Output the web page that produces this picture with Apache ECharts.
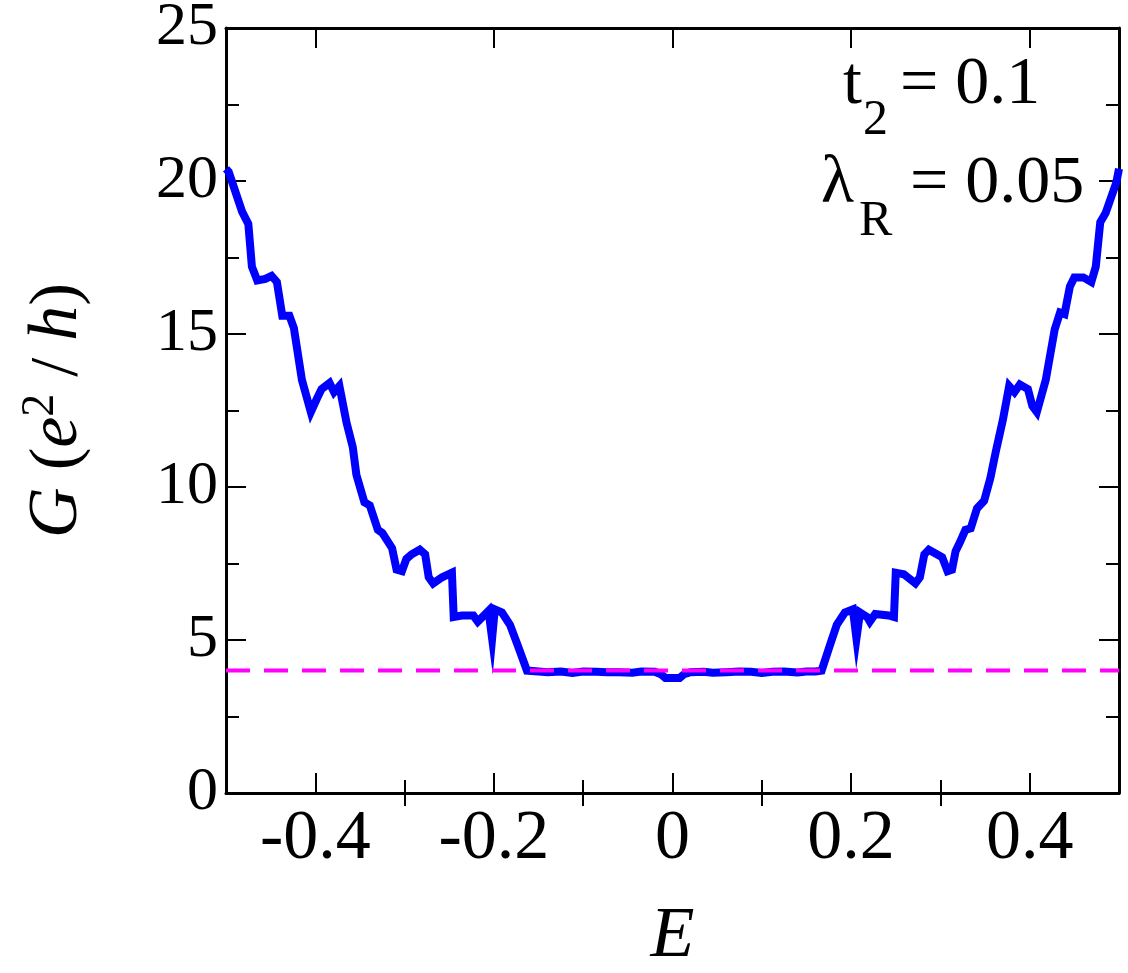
<!DOCTYPE html>
<html>
<head>
<meta charset="utf-8">
<script src="https://cdn.jsdelivr.net/npm/echarts@6/dist/echarts.min.js"></script>
<style>
  html, body { margin: 0; padding: 0; background: #fff; }
  #chart { width: 1128px; height: 973px; }
</style>
</head>
<body>
<div id="chart"></div>
<script>
// conductance G (e^2/h) vs energy E
const energy = [
  -0.5, -0.497, -0.482, -0.475, -0.471, -0.465, -0.456, -0.449, -0.443, -0.437,
  -0.429, -0.424, -0.415, -0.405, -0.398, -0.393, -0.384, -0.379, -0.373, -0.365,
  -0.358, -0.354, -0.345, -0.339, -0.330, -0.325, -0.314, -0.309, -0.303, -0.298,
  -0.292, -0.283, -0.277, -0.273, -0.268, -0.258, -0.247, -0.245, -0.236, -0.223,
  -0.218, -0.206, -0.202, -0.199, -0.191, -0.182, -0.173, -0.163,
  -0.150, -0.140, -0.125, -0.112, -0.100, -0.085, -0.073, -0.060, -0.045, -0.035,
  -0.020, -0.013, -0.008, 0.008, 0.013, 0.020, 0.035, 0.045, 0.060, 0.075,
  0.088, 0.100, 0.112, 0.125, 0.140, 0.150, 0.160,
  0.167, 0.176, 0.184, 0.193, 0.202, 0.206, 0.210, 0.218, 0.221, 0.227,
  0.242, 0.248, 0.250, 0.259, 0.272, 0.277, 0.282, 0.287, 0.296, 0.302,
  0.308, 0.313, 0.317, 0.322, 0.328, 0.334, 0.341, 0.349, 0.356, 0.362,
  0.370, 0.377, 0.383, 0.389, 0.398, 0.403, 0.408, 0.418, 0.428, 0.434,
  0.439, 0.445, 0.450, 0.460, 0.469, 0.474, 0.479, 0.485, 0.497, 0.5
];
const conductance = [
  20.4, 20.3, 19.0, 18.6, 17.2, 16.75, 16.8, 16.9, 16.7, 15.6,
  15.6, 15.2, 13.5, 12.45, 12.9, 13.2, 13.4, 13.1, 13.3, 12.1,
  11.3, 10.4, 9.5, 9.4, 8.6, 8.5, 8.0, 7.3, 7.25, 7.65,
  7.8, 7.95, 7.8, 7.05, 6.85, 7.05, 7.2, 5.75, 5.8, 5.8,
  5.6, 5.95, 5.05, 6.0, 5.9, 5.5, 4.8, 4.0,
  3.97, 3.95, 3.97, 3.92, 3.97, 3.96, 3.95, 3.95, 3.93, 3.97,
  3.96, 3.88, 3.76, 3.76, 3.88, 3.95, 3.96, 3.93, 3.95, 3.97,
  3.96, 3.92, 3.96, 3.97, 3.94, 3.97, 3.97,
  4.0, 4.8, 5.5, 5.9, 6.0, 5.05, 5.9, 5.75, 5.6, 5.85,
  5.8, 5.75, 7.2, 7.15, 6.85, 7.05, 7.8, 7.95, 7.8, 7.7,
  7.25, 7.3, 7.9, 8.2, 8.6, 8.65, 9.3, 9.55, 10.3, 11.15,
  12.2, 13.3, 13.1, 13.35, 13.2, 12.65, 12.45, 13.5, 15.15, 15.7,
  15.65, 16.55, 16.85, 16.85, 16.7, 17.2, 18.65, 18.95, 19.95, 20.4
];
const quantizedLevel = 4;
const xRange = [-0.5, 0.5];
const xMajorTicks = [-0.4, -0.2, 0, 0.2, 0.4];
const xMinorTicks = [-0.3, -0.1, 0.1, 0.3];

const FONT = "'Liberation Serif', 'Times New Roman', Times, serif";
const curve = energy.map((e, i) => [e, conductance[i]]);

const chart = echarts.init(document.getElementById('chart'));

const xBase = {
  type: 'value', min: xRange[0], max: xRange[1], gridIndex: 0,
  splitLine: { show: false }
};
const frameLine = { show: true, onZero: false, lineStyle: { color: '#000', width: 3 } };
const yBase = {
  type: 'value', min: 0, max: 25, interval: 5,
  splitLine: { show: false },
  axisLine: frameLine,
  axisTick: { inside: true, length: 20, lineStyle: { color: '#000', width: 2 } },
  minorTick: { show: true, splitNumber: 2, length: 13, lineStyle: { color: '#000', width: 2 } }
};
const txt = (x, y, text, size) => ({
  type: 'text',
  style: { x, y, text, font: `${size}px ${FONT}`, fill: '#000', verticalAlign: 'middle' }
});

chart.setOption({
  backgroundColor: '#fff',
  animation: false,
  grid: { left: 226, right: 9, top: 28, bottom: 180, outerBoundsMode: 'none' },
  xAxis: [
    Object.assign({}, xBase, {
      position: 'bottom',
      axisLine: frameLine,
      axisTick: { inside: true, length: 20, customValues: xMajorTicks, lineStyle: { color: '#000', width: 2 } },
      axisLabel: {
        customValues: xMajorTicks, margin: 12,
        fontFamily: FONT, fontSize: 70, color: '#000',
        formatter: v => String(v)
      },
      name: 'E', nameLocation: 'middle', nameGap: 108,
      nameTextStyle: { fontFamily: FONT, fontStyle: 'italic', fontSize: 72, color: '#000' }
    }),
    Object.assign({}, xBase, {
      position: 'bottom',
      axisLine: { show: false },
      axisTick: { inside: true, length: 13, customValues: xMinorTicks, lineStyle: { color: '#000', width: 2 } },
      axisLabel: { show: false }
    }),
    Object.assign({}, xBase, {
      position: 'top',
      axisLine: frameLine,
      axisTick: { inside: true, length: 20, customValues: xMajorTicks, lineStyle: { color: '#000', width: 2 } },
      axisLabel: { show: false }
    }),
    Object.assign({}, xBase, {
      position: 'top',
      axisLine: { show: false },
      axisTick: { inside: true, length: 13, customValues: xMinorTicks, lineStyle: { color: '#000', width: 2 } },
      axisLabel: { show: false }
    })
  ],
  yAxis: [
    Object.assign({}, yBase, {
      position: 'left',
      axisLabel: { margin: 8, fontFamily: FONT, fontSize: 62, color: '#000' },
      name: '{i|G} ({i|e}{s|2} {n|/} {i|h})',
      nameLocation: 'middle', nameRotate: 90, nameGap: 128,
      nameTextStyle: {
        fontFamily: FONT, fontSize: 68, color: '#000', lineHeight: 80,
        rich: {
          i: { fontFamily: FONT, fontStyle: 'italic', fontSize: 70, lineHeight: 80, color: '#000' },
          n: { fontFamily: FONT, fontSize: 68, lineHeight: 80, color: '#000' },
          s: { fontFamily: FONT, fontSize: 46, lineHeight: 36, verticalAlign: 'top', color: '#000' }
        }
      }
    }),
    Object.assign({}, yBase, {
      position: 'right',
      axisLabel: { show: false }
    })
  ],
  graphic: [
    txt(843, 85, 't', 68),
    txt(863, 121, '2', 50),
    txt(900, 85, '= 0.1', 68),
    txt(821, 184, 'λ', 68),
    txt(859, 222, 'R', 50),
    txt(910, 184, '= 0.05', 68)
  ],
  series: [
    {
      type: 'line', xAxisIndex: 0, yAxisIndex: 0,
      data: curve, showSymbol: false, symbol: 'none',
      lineStyle: { color: '#0000ff', width: 8, join: 'miter', miterLimit: 10 },
      z: 3
    },
    {
      type: 'line', xAxisIndex: 0, yAxisIndex: 0,
      data: [[xRange[0], quantizedLevel], [xRange[1], quantizedLevel]],
      showSymbol: false, symbol: 'none',
      lineStyle: { color: '#ff00ff', width: 4, type: [24, 14] },
      z: 4
    }
  ]
});

window.addEventListener('resize', () => chart.resize());
</script>
</body>
</html>
